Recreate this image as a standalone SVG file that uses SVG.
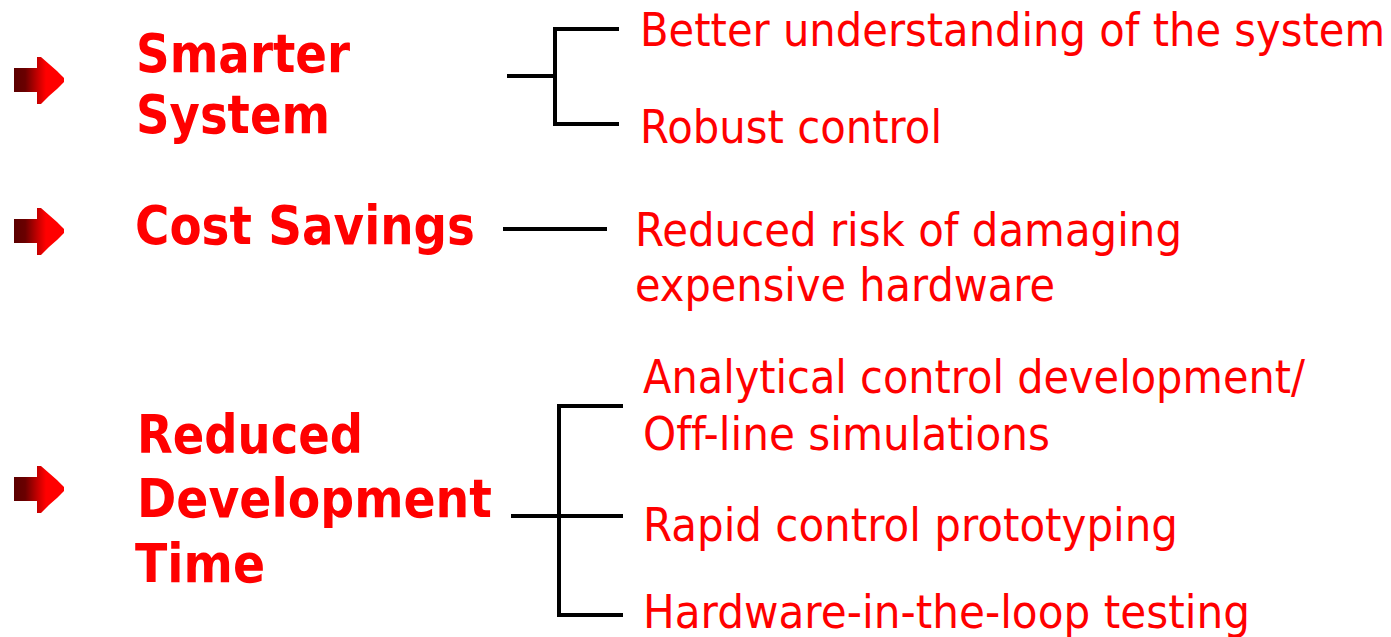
<svg xmlns="http://www.w3.org/2000/svg" width="1391" height="637" viewBox="0 0 1391 637">
  <style>
    text { font-variant-ligatures: none; }
    .head { font-family: "DejaVu Sans", Verdana, sans-serif; font-weight: bold; font-size: 53px; fill: #ff0000; }
    .item { font-family: "DejaVu Sans", Verdana, sans-serif; font-size: 47px; fill: #ff0000; }
    .wire { fill: none; stroke: #000000; stroke-width: 4; stroke-linecap: butt; stroke-linejoin: miter; }
  </style>
  <defs>
    <linearGradient id="bulletFill" gradientUnits="userSpaceOnUse" x1="14" y1="0" x2="46" y2="0">
      <stop offset="0" stop-color="#5c0000"/>
      <stop offset="0.35" stop-color="#6a0000"/>
      <stop offset="0.75" stop-color="#c80000"/>
      <stop offset="1" stop-color="#ff0000"/>
    </linearGradient>
    <!-- arrow bullet centred on y=0 -->
    <path id="bullet" fill="url(#bulletFill)" d="M14,-12 H37 V-23 H41 L49,-16 L57,-9 L62,-4 L64,-2 V2 L62,4 L57,9 L49,16 L41,24 H37 V12 H14 Z"/>
  </defs>
  <rect width="1391" height="637" fill="#ffffff"/>

  <g id="smarter-system">
    <use href="#bullet" y="80"/>
    <text class="head" x="136" y="72" textLength="214" lengthAdjust="spacingAndGlyphs">Smarter</text>
    <text class="head" x="136" y="133" textLength="194" lengthAdjust="spacingAndGlyphs">System</text>
  </g>
  <g id="better-understanding">
    <text class="item" x="640" y="46" textLength="745" lengthAdjust="spacingAndGlyphs">Better understanding of the system</text>
  </g>
  <g id="robust-control">
    <text class="item" x="640" y="143" textLength="302" lengthAdjust="spacingAndGlyphs">Robust control</text>
  </g>

  <g id="cost-savings">
    <use href="#bullet" y="231"/>
    <text class="head" x="135" y="244" textLength="340" lengthAdjust="spacingAndGlyphs">Cost Savings</text>
  </g>
  <g id="reduced-risk">
    <text class="item" x="635" y="246" textLength="547" lengthAdjust="spacingAndGlyphs">Reduced risk of damaging</text>
    <text class="item" x="635" y="301" textLength="420" lengthAdjust="spacingAndGlyphs">expensive hardware</text>
  </g>

  <g id="reduced-development-time">
    <use href="#bullet" y="489"/>
    <text class="head" x="137" y="453" textLength="226" lengthAdjust="spacingAndGlyphs">Reduced</text>
    <text class="head" x="137" y="517" textLength="355" lengthAdjust="spacingAndGlyphs">Development</text>
    <text class="head" x="135" y="582" textLength="130" lengthAdjust="spacingAndGlyphs">Time</text>
  </g>
  <g id="analytical-control">
    <text class="item" x="643" y="393" textLength="662" lengthAdjust="spacingAndGlyphs">Analytical control development/</text>
    <text class="item" x="643" y="450" textLength="407" lengthAdjust="spacingAndGlyphs">Off-line simulations</text>
  </g>
  <g id="rapid-prototyping">
    <text class="item" x="643" y="541" textLength="535" lengthAdjust="spacingAndGlyphs">Rapid control prototyping</text>
  </g>
  <g id="hil-testing">
    <text class="item" x="643" y="628" textLength="607" lengthAdjust="spacingAndGlyphs">Hardware-in-the-loop testing</text>
  </g>

  <g id="connectors">
    <path class="wire" d="M619,29 H555 V124 H619"/>
    <path class="wire" d="M507,76 H555"/>
    <path class="wire" d="M503,229 H607"/>
    <path class="wire" d="M623,406 H559 V615 H623"/>
    <path class="wire" d="M511,516 H623"/>
  </g>
</svg>
